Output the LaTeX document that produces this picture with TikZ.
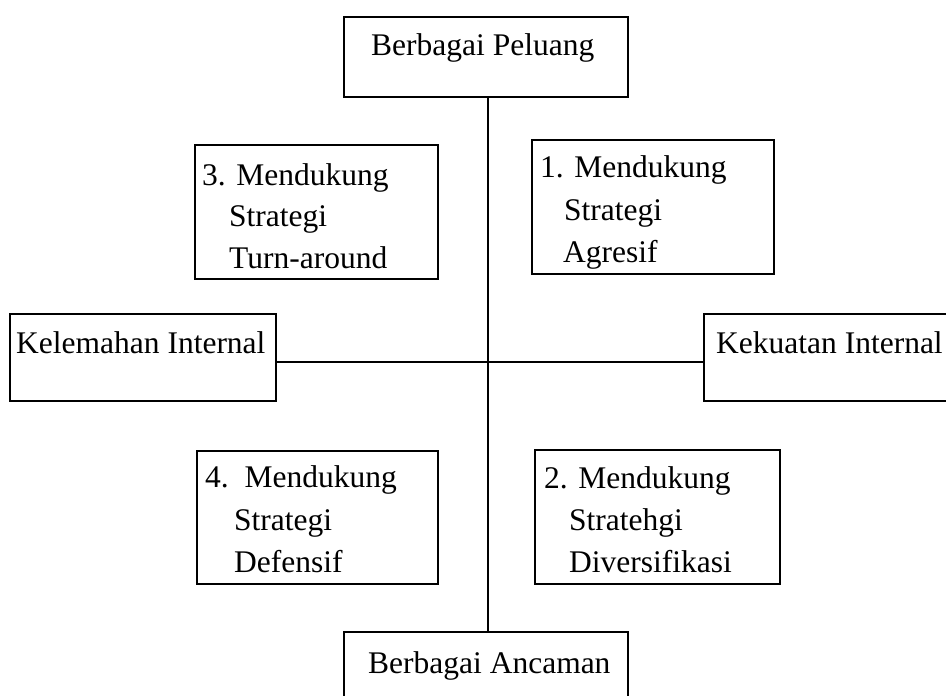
\documentclass[tikz,border=0pt]{standalone}
\usepackage{fontspec}
\setmainfont{Liberation Serif}
\begin{document}
\begin{tikzpicture}[x=1pt,y=-1pt,
  box/.style={draw, line width=2pt, inner sep=0pt, anchor=north west},
  txt/.style={anchor=base west, inner sep=0pt, font=\fontsize{31.5}{42}\selectfont},
  link/.style={line width=2pt}]
\useasboundingbox (0,0) rectangle (946,696);
\clip (0,0) rectangle (946,696);
% boxes
\node[box, minimum width=284pt, minimum height=80pt] (top) at (342.7,15.7) {};
\node[box, minimum width=284pt, minimum height=80pt] (bot) at (342.7,631) {};
\node[box, minimum width=265.7pt, minimum height=87.3pt] (weak) at (9.3,312.7) {};
\node[box, minimum width=270pt, minimum height=87.3pt] (strong) at (702.7,312.7) {};
\node[box, minimum width=242.7pt, minimum height=134pt] (b3) at (194,144) {};
\node[box, minimum width=242.3pt, minimum height=133.7pt] (b1) at (530.7,139.3) {};
\node[box, minimum width=241pt, minimum height=133pt] (b4) at (196,450) {};
\node[box, minimum width=245pt, minimum height=134pt] (b2) at (534,449) {};
% texts
\node[txt] (ttop) at (371,55) {Berbagai Peluang};
\node[txt] (tbot) at (368,673) {Berbagai Ancaman};
\node[txt] (tweak) at (16,353) {Kelemahan Internal};
\node[txt] (tstrong) at (716,353) {Kekuatan Internal};
\node[txt] (t3a) at (202,185) {3. Mendukung};
\node[txt] (t3b) at (229,226) {Strategi};
\node[txt] (t3c) at (229,268) {Turn-around};
\node[txt] (t1a) at (540,177) {1. Mendukung};
\node[txt] (t1b) at (564,220) {Strategi};
\node[txt] (t1c) at (563,262) {Agresif};
\node[txt] (t4a) at (205,487) {4.\ \ Mendukung};
\node[txt] (t4b) at (234,530) {Strategi};
\node[txt] (t4c) at (234,572) {Defensif};
\node[txt] (t2a) at (544,488) {2. Mendukung};
\node[txt] (t2b) at (569,530) {Stratehgi};
\node[txt] (t2c) at (569,572) {Diversifikasi};
% connectors
\coordinate (c) at (488.3,361.5);
\draw[link] (c |- top.south) -- (c |- bot.north);
\draw[link] (weak.east |- c) -- (strong.west |- c);
\end{tikzpicture}
\end{document}
